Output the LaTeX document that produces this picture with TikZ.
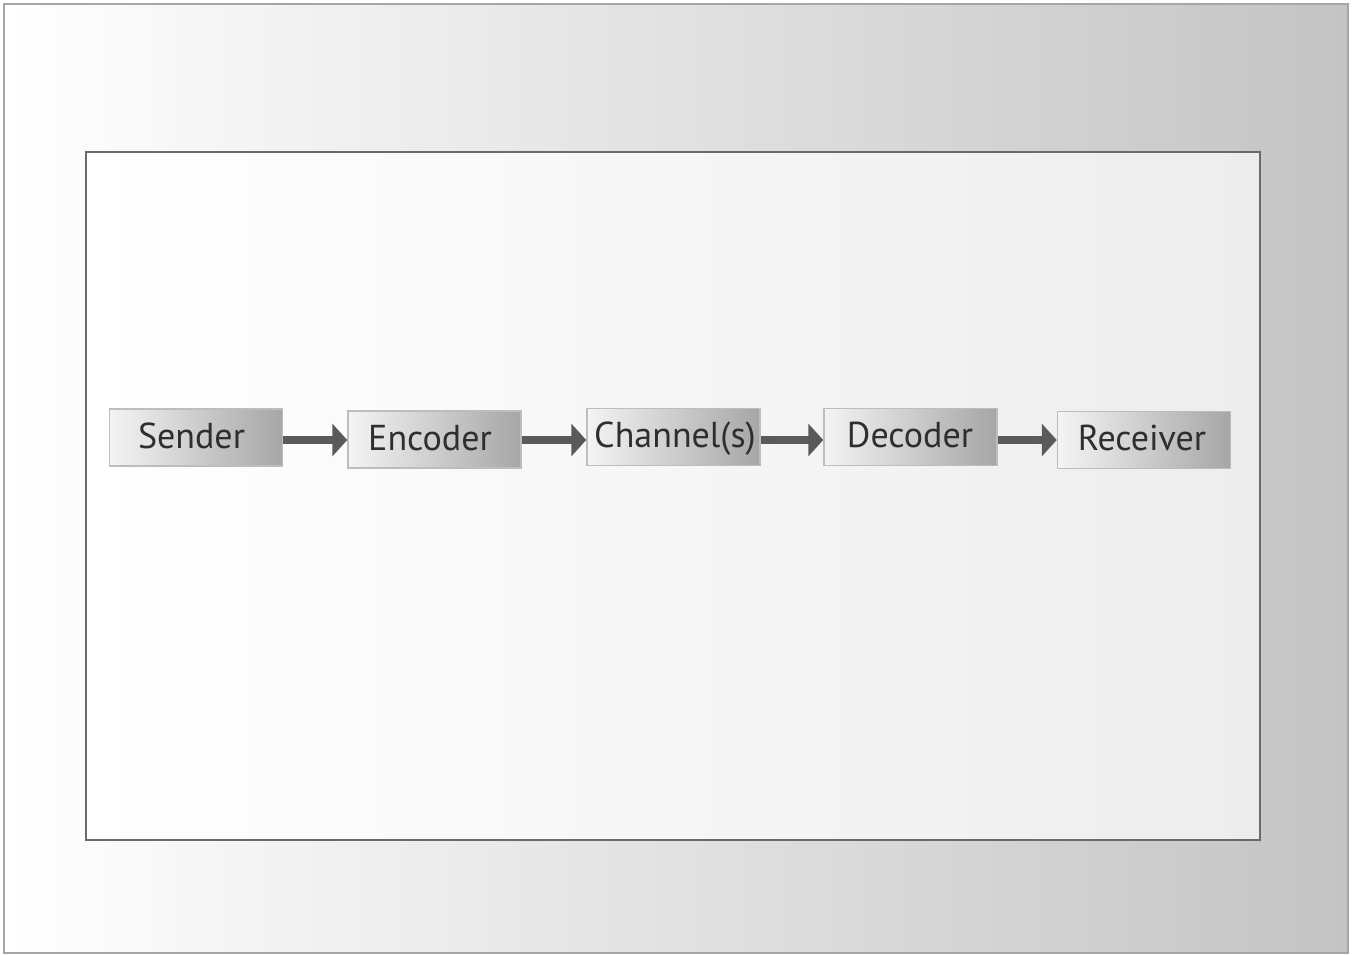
\documentclass[tikz,border=0pt]{standalone}
\usepackage{fontspec}
\setmainfont{PT Sans}
\usetikzlibrary{arrows.meta}
\definecolor{outerR}{HTML}{C4C4C4}
\definecolor{innerR}{HTML}{EDEDED}
\definecolor{boxR}{HTML}{A6A6A6}
\definecolor{boxL}{HTML}{F4F4F4}
\definecolor{boxedge}{HTML}{BDBDBD}
\definecolor{arrowc}{HTML}{5A5A5A}
\definecolor{framec}{HTML}{6A6A6A}
\definecolor{txt}{HTML}{2E2E2E}
\tikzset{
  stagebox/.style={draw=boxedge, line width=1.5pt, left color=boxL, right color=boxR,
    minimum width=173pt, minimum height=57pt, inner sep=0pt, text=txt,
    font=\fontsize{36}{40}\selectfont},
  stagetext/.style={text=txt, font=\fontsize{36}{40}\selectfont, inner sep=0pt},
  flow/.style={draw=arrowc, line width=7.5pt, -{Triangle[length=15pt,width=32pt]}}
}
\begin{document}
\begin{tikzpicture}[x=1pt,y=-1pt]
\useasboundingbox (0,0) rectangle (1352,955);
\shade[left color=white, right color=outerR] (4,4) rectangle (1348,953);
\draw[draw=gray!70, line width=2pt] (4,4) rectangle (1348,953);
\shade[left color=white, right color=innerR] (86,152) rectangle (1260,840);
\draw[draw=framec, line width=2.5pt] (86,152) rectangle (1260,840);
\node[stagebox] (s) at (196,437.5) {};
\node[stagebox] (e) at (434.5,439.5) {};
\node[stagebox] (c) at (673.5,437) {};
\node[stagebox] (d) at (910.5,437) {};
\node[stagebox] (r) at (1144,440) {};
\node[stagetext, anchor=base] (st) at (191.5,448) {Sender};
\node[stagetext, anchor=base] (et) at (430,450) {Encoder};
\node[stagetext, anchor=base] (ct) at (675,447) {Channel(s)};
\node[stagetext, anchor=base] (dt) at (910,447) {Decoder};
\node[stagetext, anchor=base] (rt) at (1142,450) {Receiver};
\coordinate (y1) at (0,440);
\draw[flow] (s.east |- y1) -- (e.west |- y1);
\draw[flow] (e.east |- y1) -- (c.west |- y1);
\draw[flow] (c.east |- y1) -- (d.west |- y1);
\draw[flow] (d.east |- y1) -- (r.west |- y1);
\end{tikzpicture}
\end{document}
